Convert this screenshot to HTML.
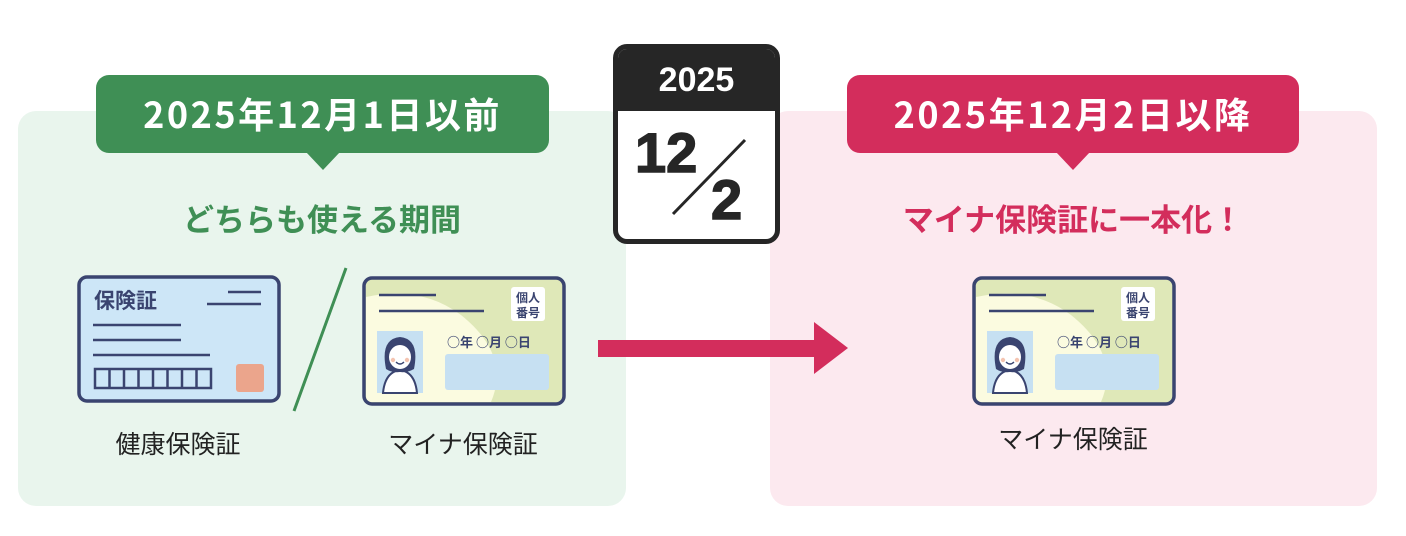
<!DOCTYPE html>
<html><head><meta charset="utf-8"><style>
body{margin:0;width:1406px;height:536px;background:#fff;position:relative;overflow:hidden;font-family:"Liberation Sans","Noto Sans CJK JP",sans-serif}
.a{position:absolute}
.panel{position:absolute;top:111px;height:395px;border-radius:18px}
.lab{position:absolute;top:75px;height:78px;border-radius:13px;color:#fff;font-weight:bold;font-size:36px;letter-spacing:2.5px;text-align:center;line-height:76px;font-family:"Noto Sans CJK JP",sans-serif}
.lab:after{content:"";position:absolute;left:50%;margin-left:-17px;bottom:-17px;border-left:17px solid transparent;border-right:17px solid transparent;border-top:18px solid var(--c)}
.sub{position:absolute;width:400px;text-align:center;font-weight:bold;font-size:31px;top:195px;font-family:"Noto Sans CJK JP",sans-serif}
.cap{position:absolute;width:240px;text-align:center;font-size:25px;color:#222;font-family:"Noto Sans CJK JP",sans-serif}
</style></head><body>
<div class="panel" style="left:18px;width:608px;background:#e9f5ed"></div>
<div class="panel" style="left:770px;width:607px;background:#fce9ef"></div>
<div class="lab" style="left:96px;width:453px;background:#3f8f55;--c:#3f8f55">2025年12月1日以前</div>
<div class="lab" style="left:847px;width:452px;background:#d32d5c;--c:#d32d5c">2025年12月2日以降</div>
<div class="sub" style="left:122px;color:#3f8f55">どちらも使える期間</div>
<div class="sub" style="left:873px;color:#d32d5c">マイナ保険証に一本化！</div>

<div class="a" style="left:613px;top:44px;width:157px;height:190px;border:5px solid #262626;border-radius:14px;background:#fff;overflow:hidden">
<div style="height:62px;background:#262626;color:#fff;font-weight:bold;font-size:34px;text-align:center;line-height:62px">2025</div>
</div>
<svg class="a" style="left:613px;top:44px" width="170" height="202">
<text x="22" y="128" font-family="Liberation Sans" font-weight="bold" font-size="56" fill="#262626" stroke="#262626" stroke-width="1.5">12</text>
<text x="98" y="175" font-family="Liberation Sans" font-weight="bold" font-size="56" fill="#262626" stroke="#262626" stroke-width="1.5">2</text>
<line x1="132" y1="96" x2="60" y2="170" stroke="#262626" stroke-width="3"/>
</svg>

<svg class="a" style="left:76px;top:274px" width="208" height="132">
<rect x="3" y="3" width="200" height="124" rx="8" fill="#cde6f7" stroke="#3a4470" stroke-width="3.5"/>
<text x="18" y="34" font-family="Noto Sans CJK JP" font-weight="bold" font-size="21" fill="#3a4470">保険証</text>
<line x1="152" y1="18" x2="185" y2="18" stroke="#3a4470" stroke-width="2.5"/>
<line x1="131" y1="30" x2="185" y2="30" stroke="#3a4470" stroke-width="2.5"/>
<line x1="17" y1="51" x2="105" y2="51" stroke="#3a4470" stroke-width="2.5"/>
<line x1="17" y1="66" x2="105" y2="66" stroke="#3a4470" stroke-width="2.5"/>
<line x1="17" y1="81" x2="134" y2="81" stroke="#3a4470" stroke-width="2.5"/>
<rect x="19" y="95" width="116" height="19" fill="none" stroke="#3a4470" stroke-width="2.5"/>
<g stroke="#3a4470" stroke-width="2.5"><line x1="33.5" y1="95" x2="33.5" y2="114"/><line x1="48" y1="95" x2="48" y2="114"/><line x1="62.5" y1="95" x2="62.5" y2="114"/><line x1="77" y1="95" x2="77" y2="114"/><line x1="91.5" y1="95" x2="91.5" y2="114"/><line x1="106" y1="95" x2="106" y2="114"/><line x1="120.5" y1="95" x2="120.5" y2="114"/></g>
<rect x="160" y="90" width="28" height="28" rx="3" fill="#eba58c"/>
</svg>
<svg class="a" style="left:290px;top:266px" width="60" height="148"><line x1="56" y1="2" x2="4" y2="145" stroke="#3f8f55" stroke-width="3"/></svg>

<svg width="0" height="0" style="position:absolute"><defs>
<g id="mc">
<rect x="3" y="3" width="200" height="126" rx="8" fill="#dfe8b8"/>
<path d="M5 22 Q60 10 100 40 Q150 80 130 127 L10 127 Q5 127 5 120Z" fill="#fbfbe0"/>
<rect x="3" y="3" width="200" height="126" rx="8" fill="none" stroke="#3a4470" stroke-width="3.5"/>
<line x1="18" y1="20" x2="75" y2="20" stroke="#3a4470" stroke-width="2.5"/>
<line x1="18" y1="36" x2="123" y2="36" stroke="#3a4470" stroke-width="2.5"/>
<rect x="150" y="12" width="34" height="34" rx="3" fill="#fff"/>
<text x="167" y="27" text-anchor="middle" font-family="Noto Sans CJK JP" font-weight="bold" font-size="12" fill="#3a4470">個人</text>
<text x="167" y="42" text-anchor="middle" font-family="Noto Sans CJK JP" font-weight="bold" font-size="12" fill="#3a4470">番号</text>
<rect x="16" y="56" width="46" height="62" fill="#c6e0f2"/>
<path d="M22 118 Q24 97 39 95 Q54 97 56 118Z" fill="#fff" stroke="#3a4470" stroke-width="2"/>
<path d="M25 94 Q19 64 39 62 Q59 64 53 94 Q46 98 39 97 Q31 98 25 94Z" fill="#3a4470"/>
<ellipse cx="39" cy="82" rx="11" ry="12" fill="#fff"/>
<circle cx="32" cy="85" r="2.2" fill="#f4c4b0"/><circle cx="46" cy="85" r="2.2" fill="#f4c4b0"/>
<path d="M35 87 Q39 91 43 87" fill="none" stroke="#3a4470" stroke-width="1.3"/>
<text x="86" y="72" font-family="Noto Sans CJK JP" font-weight="bold" font-size="13" fill="#3a4470">○年 ○月 ○日</text>
<rect x="84" y="79" width="104" height="36" rx="3" fill="#c6e0f2"/>
</g></defs></svg>
<svg class="a" style="left:361px;top:275px" width="208" height="134"><use href="#mc"/></svg>
<svg class="a" style="left:971px;top:275px" width="208" height="134"><use href="#mc"/></svg>

<svg class="a" style="left:596px;top:318px" width="256" height="60">
<rect x="2" y="22" width="222" height="17" fill="#d32d5c"/>
<polygon points="218,4 252,30 218,56" fill="#d32d5c"/>
</svg>

<div class="cap" style="left:58px;top:425px">健康保険証</div>
<div class="cap" style="left:343px;top:425px">マイナ保険証</div>
<div class="cap" style="left:953px;top:420px">マイナ保険証</div>
</body></html>
